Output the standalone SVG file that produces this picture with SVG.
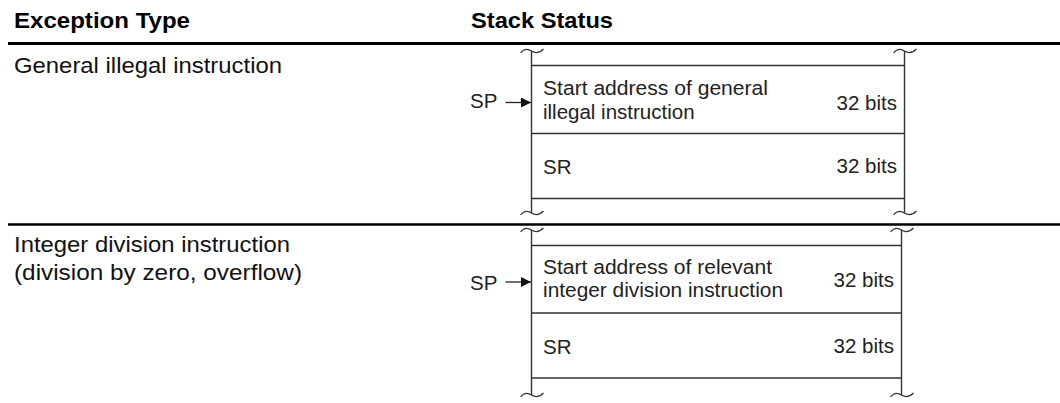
<svg xmlns="http://www.w3.org/2000/svg" xmlns:xlink="http://www.w3.org/1999/xlink" width="1060" height="403" viewBox="0 0 1060 403">
  <style>
    .hdr { font-family: "Liberation Sans", Arial, sans-serif; font-weight: bold; font-size: 22px; fill: #000; }
    .lbl { font-family: "Liberation Sans", Arial, sans-serif; font-size: 22.5px; fill: #111; }
    .st { font-family: "Liberation Sans", Arial, sans-serif; font-size: 20.5px; fill: #222; }
    .rule { stroke: #000; fill: none; }
    .box { stroke: #333; stroke-width: 1.4; fill: none; }
    .tl { stroke: #333; stroke-width: 1.2; fill: none; }
    .arr { stroke: #222; stroke-width: 1.3; fill: none; }
  </style>
  <defs>
    <path id="tilde" class="tl" d="M-11,2 C-7,-3 -3,-2 0,0 C3,2 7,3 12,-2"/>
    <marker id="ah" viewBox="0 0 10 10" refX="10" refY="5" markerWidth="16" markerHeight="10" markerUnits="userSpaceOnUse" orient="auto">
      <path d="M0,0 L10,5 L0,10 Z" fill="#111"/>
    </marker>
  </defs>
  <rect width="1060" height="403" fill="#fff"/>

  <g id="header">
    <text class="hdr" x="14" y="28" textLength="176" lengthAdjust="spacingAndGlyphs">Exception Type</text>
    <text class="hdr" x="471" y="28" textLength="142" lengthAdjust="spacingAndGlyphs">Stack Status</text>
    <line class="rule" x1="8" y1="43.5" x2="1060" y2="43.5" stroke-width="3"/>
    <line class="rule" x1="8" y1="224.5" x2="1060" y2="224.5" stroke-width="2.6"/>
  </g>

  <g id="row1-label">
    <text class="lbl" x="14" y="73" textLength="268" lengthAdjust="spacingAndGlyphs">General illegal instruction</text>
  </g>

  <g id="row2-label">
    <text class="lbl" x="14" y="252" textLength="276" lengthAdjust="spacingAndGlyphs">Integer division instruction</text>
    <text class="lbl" x="14" y="280" textLength="288" lengthAdjust="spacingAndGlyphs">(division by zero, overflow)</text>
  </g>

  <g id="stack1">
    <line class="box" x1="531.5" y1="51" x2="531.5" y2="213"/>
    <line class="box" x1="904.5" y1="51" x2="904.5" y2="213"/>
    <line class="box" x1="531.5" y1="65.5" x2="904.5" y2="65.5"/>
    <line class="box" x1="531.5" y1="133.5" x2="904.5" y2="133.5"/>
    <line class="box" x1="531.5" y1="198.5" x2="904.5" y2="198.5"/>
    <use xlink:href="#tilde" href="#tilde" transform="translate(531.5,51)"/>
    <use xlink:href="#tilde" href="#tilde" transform="translate(904.5,51)"/>
    <use xlink:href="#tilde" href="#tilde" transform="translate(531.5,213)"/>
    <use xlink:href="#tilde" href="#tilde" transform="translate(904.5,213)"/>
    <text class="st" x="543" y="95" textLength="225" lengthAdjust="spacingAndGlyphs">Start address of general</text>
    <text class="st" x="543" y="119">illegal instruction</text>
    <text class="st" x="897" y="110" text-anchor="end">32 bits</text>
    <text class="st" x="543" y="174">SR</text>
    <text class="st" x="897" y="173" text-anchor="end">32 bits</text>
    <text class="st" x="470" y="108">SP</text>
  </g>

  <g id="stack2">
    <line class="box" x1="531.5" y1="230" x2="531.5" y2="395"/>
    <line class="box" x1="901.5" y1="230" x2="901.5" y2="395"/>
    <line class="box" x1="531.5" y1="245.5" x2="901.5" y2="245.5"/>
    <line class="box" x1="531.5" y1="313" x2="901.5" y2="313"/>
    <line class="box" x1="531.5" y1="378" x2="901.5" y2="378"/>
    <use xlink:href="#tilde" href="#tilde" transform="translate(531.5,230)"/>
    <use xlink:href="#tilde" href="#tilde" transform="translate(901.5,230)"/>
    <use xlink:href="#tilde" href="#tilde" transform="translate(531.5,395)"/>
    <use xlink:href="#tilde" href="#tilde" transform="translate(901.5,395)"/>
    <text class="st" x="543" y="274" textLength="229" lengthAdjust="spacingAndGlyphs">Start address of relevant</text>
    <text class="st" x="543" y="297" textLength="240" lengthAdjust="spacingAndGlyphs">integer division instruction</text>
    <text class="st" x="894" y="287" text-anchor="end">32 bits</text>
    <text class="st" x="543" y="354">SR</text>
    <text class="st" x="894" y="353" text-anchor="end">32 bits</text>
    <text class="st" x="470" y="290">SP</text>
  </g>

  <g id="connectors">
    <line class="arr" x1="505.5" y1="102.5" x2="531" y2="102.5" marker-end="url(#ah)"/>
    <line class="arr" x1="505.5" y1="282" x2="531" y2="282" marker-end="url(#ah)"/>
  </g>
</svg>
